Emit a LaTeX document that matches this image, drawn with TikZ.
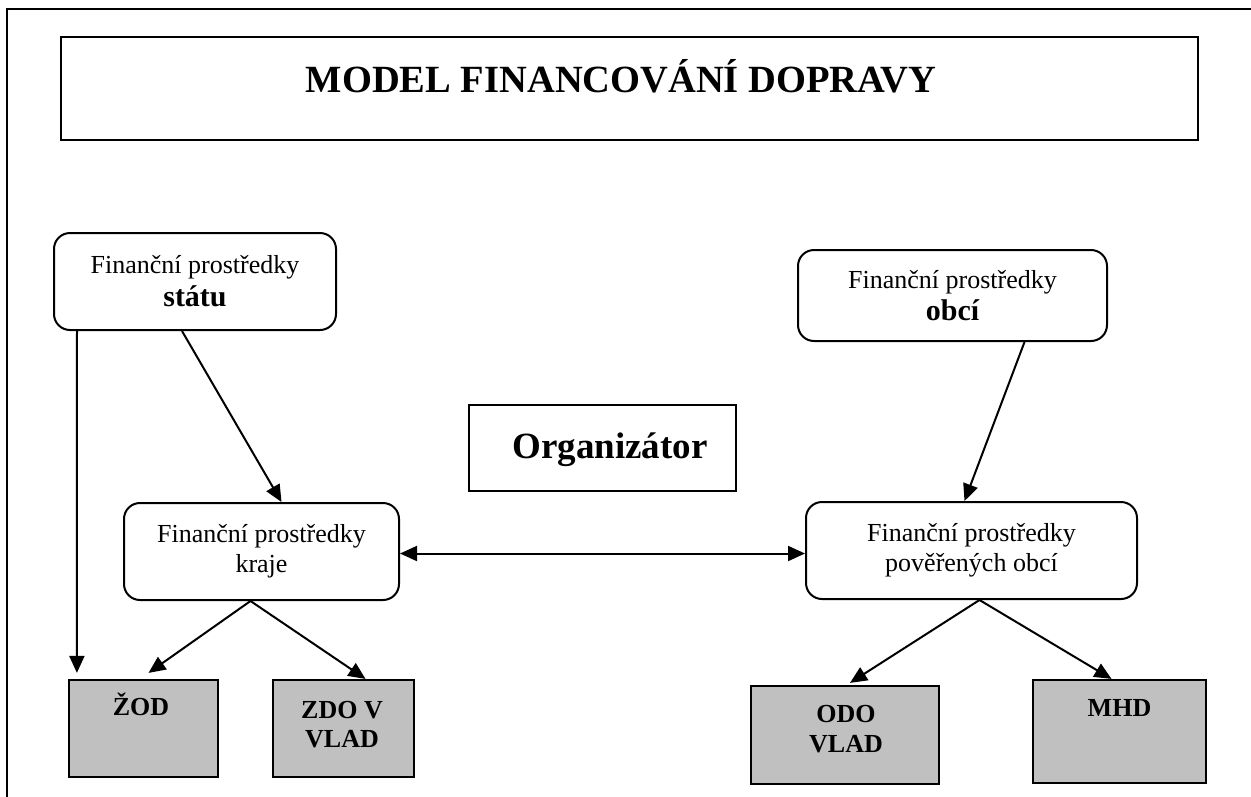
\documentclass[tikz,border=0pt]{standalone}
\usepackage{fontspec}
\setmainfont{Liberation Serif}
\usetikzlibrary{arrows.meta,calc}
\definecolor{boxgray}{HTML}{C0C0C0}
\begin{document}
\begin{tikzpicture}[x=1pt,y=-1pt,
  box/.style={draw, line width=2.2pt, inner sep=0pt, align=center},
  rbox/.style={box, line width=2pt, rounded corners=16pt},
  gbox/.style={box, fill=boxgray},
  conn/.style={line width=2pt, -{Triangle[length=17pt,width=15pt]}},
  dconn/.style={line width=2pt, {Triangle[length=17pt,width=15pt]}-{Triangle[length=17pt,width=15pt]}},
  lbl/.style={font=\fontsize{26}{29}\selectfont\bfseries, align=center, anchor=base, inner sep=0pt},
]
\useasboundingbox (0,0) rectangle (1251,796);
% outer frame
\draw[line width=2.8pt] (7,800) -- (7,9) -- (1255,9);

% title
\node[box, minimum width=1137pt, minimum height=103pt] (titlebox) at (629.5,88.5) {};
\node[font=\fontsize{38.5}{40}\selectfont\bfseries, inner sep=0pt, anchor=base] (title) at (621,92) {MODEL FINANCOVÁNÍ DOPRAVY};

% rounded boxes
\node[rbox, minimum width=282pt, minimum height=97pt, font=\fontsize{26}{33}\selectfont] (stat) at (195,281.5)
  {Finanční prostředky\\{\fontsize{30}{33}\selectfont\bfseries státu}};
\node[rbox, minimum width=309pt, minimum height=91pt, font=\fontsize{26}{32}\selectfont] (obci) at (952.5,295.5)
  {Finanční prostředky\\{\fontsize{30}{32}\selectfont\bfseries obcí}};
\node[box, minimum width=267pt, minimum height=86pt] (org) at (602.5,448) {};
\node[font=\fontsize{37}{40}\selectfont\bfseries, inner sep=0pt, anchor=base] (orgt) at (610,458) {Organizátor};
\node[rbox, minimum width=275pt, minimum height=97pt, font=\fontsize{26}{30}\selectfont] (kraje) at (261.5,551.5)
  {Finanční prostředky\\kraje};
\node[rbox, minimum width=331pt, minimum height=97pt, font=\fontsize{26}{30}\selectfont] (pov) at (971.5,550.5)
  {Finanční prostředky\\pověřených obcí};

% gray boxes
\node[gbox, minimum width=149pt, minimum height=97pt] (zod) at (143.5,728.5) {};
\node[gbox, minimum width=141pt, minimum height=97pt] (zdo) at (343.5,728.5) {};
\node[gbox, minimum width=188pt, minimum height=98pt] (odo) at (845,735) {};
\node[gbox, minimum width=173pt, minimum height=103pt] (mhd) at (1119.5,731.5) {};

\node[lbl] (zodt) at (141,715) {ŽOD};
\node[lbl] (zdot) at (342,747) {ZDO V\\VLAD};
\node[lbl, font=\fontsize{26}{30}\selectfont\bfseries] (odot) at (846,752) {ODO\\VLAD};
\node[lbl] (mhdt) at (1119.5,716) {MHD};

% connectors
\coordinate (zodin) at ([xshift=9pt,yshift=6pt]zod.north west);
\draw[conn] ([xshift=24pt]stat.south west) -- (zodin);
\draw[conn] ([xshift=-13pt]stat.south) -- ([xshift=20pt]kraje.north);
\draw[conn] ([xshift=72pt]obci.south) -- ([xshift=-7pt]pov.north);
\draw[dconn] ([yshift=-2pt]kraje.east) -- ([yshift=-2pt]kraje.east -| pov.west);
\draw[conn] ([xshift=-11pt]kraje.south) -- ([xshift=5pt,yshift=6pt]zod.north);
\draw[conn] ([xshift=-11pt]kraje.south) -- ([xshift=22pt]zdo.north);
\draw[conn] ([xshift=8pt]pov.south) -- ([xshift=5pt,yshift=2pt]odo.north);
\draw[conn] ([xshift=8pt]pov.south) -- ([xshift=-8pt]mhd.north);
\end{tikzpicture}
\end{document}
